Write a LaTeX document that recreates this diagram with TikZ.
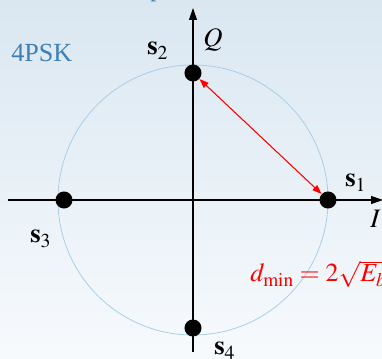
\documentclass[tikz,border=0pt]{standalone}
\usepackage{mathptmx}
\usepackage{fontspec}
\setmainfont{Liberation Serif}
\usetikzlibrary{arrows.meta}
\definecolor{bgtop}{HTML}{DAE7F1}
\definecolor{bgbot}{HTML}{F7FAFD}
\definecolor{circblue}{HTML}{A9CFE6}
\definecolor{titleblue}{HTML}{3C80B6}
\tikzset{
  axis/.style={line width=1.1pt*0.75, -{Triangle[length=9pt,width=6pt]}},
  dot/.style={circle, fill=black, minimum size=12.8pt, inner sep=0pt},
  lbl/.style={anchor=base west, inner sep=0pt, font=\fontsize{20}{24}\selectfont},
  dist/.style={red, line width=0.8pt, {Triangle[length=7pt,width=5pt]}-{Triangle[length=7pt,width=5pt]}},
}
\begin{document}
\begin{tikzpicture}[x=0.75pt,y=-0.75pt]
\shade[top color=bgtop, bottom color=bgbot] (0,0) rectangle (382,359);
\useasboundingbox (0,0) rectangle (382,359);
% top cut-off title fragment
\node[anchor=base west, inner sep=0pt, text=titleblue, font=\fontsize{19}{23}\selectfont] (frag) at (150,-3.3) {p};
% circle
\draw[circblue, line width=0.6pt] (193,200) circle[radius=101.25pt];
% axes
\coordinate (xl) at (8,200);
\coordinate (xr) at (383,200);
\coordinate (yb) at (193,352);
\coordinate (yt) at (193,8);
\draw[axis] (xl) -- (xr);
\draw[axis] (yb) -- (yt);
% points
\node[dot] (s1) at (328,200) {};
\node[dot] (s2) at (193,73) {};
\node[dot] (s3) at (64,200) {};
\node[dot] (s4) at (193,328) {};
% distance arrow
\draw[dist] (s2) -- (s1);
% labels
\node[anchor=base west, inner sep=0pt, text=titleblue, font=\fontsize{19.6}{23}\selectfont] (title) at (11,62) {4PSK};
\node[lbl] (ls1) at (345,187) {$\mathbf{s}_1$};
\node[lbl] (ls2) at (147,55) {$\mathbf{s}_2$};
\node[lbl] (ls3) at (30,243) {$\mathbf{s}_3$};
\node[lbl] (ls4) at (214,355) {$\mathbf{s}_4$};
\node[lbl] (lQ) at (203,47) {$Q$};
\node[lbl] (lI) at (370,228) {$I$};
\node[lbl, text=red, font=\fontsize{19.5}{24}\selectfont] (dmin) at (250,282) {$d_{\min} = 2\sqrt{E_b}$};
\end{tikzpicture}
\end{document}
